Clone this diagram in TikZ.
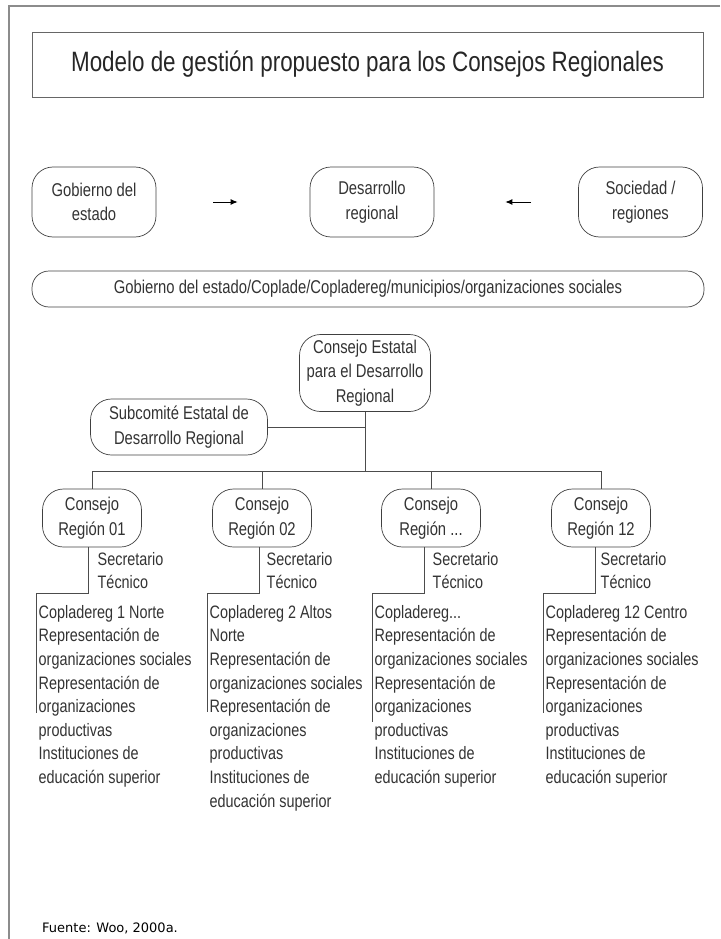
\documentclass[tikz,border=0pt]{standalone}
\usepackage{fontspec}
\setmainfont{Liberation Sans}[FakeStretch=0.8]
\newfontfamily\fuentefont{DejaVu Sans}
\usetikzlibrary{arrows.meta}

\tikzstyle{marco} = [draw=black!45, line width=1.5pt]
\tikzstyle{linea} = [draw=black!70, line width=0.6pt]
\tikzstyle{flecha} = [draw=black, line width=0.9pt, -{Latex[length=7pt,width=6pt]}]
\tikzstyle{titulo} = [rectangle, draw=black!60, line width=0.8pt, 
    minimum width=671pt, minimum height=65pt, text=black!85,
    font=\fontsize{28}{32}\selectfont]
\tikzstyle{caja} = [rectangle, rounded corners=21pt, draw=black!75, line width=0.7pt,
    align=center, inner sep=2pt, text=black!80, font=\fontsize{18.5}{24.5}\selectfont]
\tikzstyle{cajasup} = [caja, minimum width=124pt, minimum height=70pt]
\tikzstyle{cajareg} = [caja, minimum width=99pt, minimum height=58pt]
\tikzstyle{texto} = [align=left, inner xsep=2.5pt, inner ysep=3pt, anchor=north west,
    text=black!80, font=\fontsize{18}{23.6}\selectfont]
\tikzstyle{lista} = [texto, inner ysep=12pt]

\begin{document}
\begin{tikzpicture}[x=1pt, y=-1pt]
	\useasboundingbox (0,0) rectangle (720,939);
	\draw [marco] (720,6) -- (9,6) -- (9,939);
	\node [titulo] (tit) at (367.5,64.5) {Modelo de gestión propuesto para los Consejos Regionales};
	%
	\node [cajasup] (gob) at (94,202) {Gobierno del\\estado};
	\node [cajasup] (des) at (372,202) {Desarrollo\\regional};
	\node [cajasup] (soc) at (640.5,202) {Sociedad /\\regiones};
	\draw [flecha, shorten <=57pt, shorten >=72pt] (gob) -- (des);
	\draw [flecha, shorten <=47pt, shorten >=71pt] (soc) -- (des);
	%
	\node [caja, minimum width=672pt, minimum height=36pt, rounded corners=17pt] (bar) at (368,289)
		{Gobierno del estado/Coplade/Copladereg/municipios/organizaciones sociales};
	%
	\node [caja, minimum width=131pt, minimum height=77pt] (ce) at (365,373)
		{Consejo Estatal\\para el Desarrollo\\Regional};
	\node [caja, minimum width=177pt, minimum height=56pt] (sub) at (179,427)
		{Subcomité Estatal de\\Desarrollo Regional};
	\draw [linea] (sub.east) -- (sub.east -| ce.south);
	%
	\node [cajareg] (r1) at (92,518) {Consejo\\Región 01};
	\node [cajareg] (r2) at (262,518) {Consejo\\Región 02};
	\node [cajareg] (r3) at (431,518) {Consejo\\Región ...};
	\node [cajareg] (r4) at (601,518) {Consejo\\Región 12};
	\coordinate (busa) at (92,471);
	\coordinate (busb) at (601,471);
	\draw [linea] (busa) -- (busb);
	\draw [linea] (ce.south) -- (ce.south |- busa);
	\draw [linea] (r1.north) -- (r1.north |- busa);
	\draw [linea] (r2.north) -- (r2.north |- busa);
	\draw [linea] (r3.north) -- (r3.north |- busa);
	\draw [linea] (r4.north) -- (r4.north |- busa);
	%
	\node [texto] (s1) at (95,549) {Secretario\\Técnico};
	\node [texto] (s2) at (264,549) {Secretario\\Técnico};
	\node [texto] (s3) at (430,549) {Secretario\\Técnico};
	\node [texto] (s4) at (598,549) {Secretario\\Técnico};
	%
	\node [lista] (l1) at (36,593) {Copladereg 1 Norte\\Representación de\\organizaciones sociales\\Representación de\\organizaciones\\productivas\\Instituciones de\\educación superior};
	\node [lista] (l2) at (207,593) {Copladereg 2 Altos\\Norte\\Representación de\\organizaciones sociales\\Representación de\\organizaciones\\productivas\\Instituciones de\\educación superior};
	\node [lista] (l3) at (372,593) {Copladereg...\\Representación de\\organizaciones sociales\\Representación de\\organizaciones\\productivas\\Instituciones de\\educación superior};
	\node [lista] (l4) at (543,593) {Copladereg 12 Centro\\Representación de\\organizaciones sociales\\Representación de\\organizaciones\\productivas\\Instituciones de\\educación superior};
	\draw [linea] ([xshift=-4pt]r1.south) |- (l1.north west) -- ++(0,120);
	\draw [linea] ([xshift=-3pt]r2.south) |- (l2.north west) -- ++(0,119);
	\draw [linea] ([xshift=-7pt]r3.south) |- (l3.north west) -- ++(0,129);
	\draw [linea] ([xshift=-6pt]r4.south) |- (l4.north west) -- ++(0,120);
	%
	\node [anchor=west, inner sep=0pt, font=\fuentefont\fontsize{13}{15}\selectfont] (fue) at (42,928) {Fuente: Woo, 2000a.};
\end{tikzpicture}
\end{document}
